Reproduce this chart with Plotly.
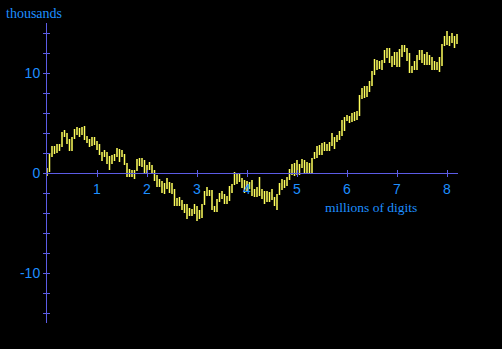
import plotly.graph_objects as go

# Range of the running total (thousands) within each block of 50,000 digits
high = [0.5, 2.0, 2.7, 2.7, 2.9, 2.9, 4.1, 4.3, 4.0, 3.4,
        3.6, 4.4, 4.6, 4.5, 4.6, 4.7, 3.7, 3.4, 3.6, 3.6,
        3.2, 2.9, 2.1, 2.3, 2.1, 1.7, 1.8, 1.9, 2.5, 2.4,
        2.3, 1.9, 1.0, 0.4, 0.3, 0.3, 1.4, 1.5, 1.5, 1.3,
        0.8, 1.1, 0.8, 0.3, -0.2, -0.6, -0.8, -1.0, -0.5, -0.9,
        -1.0, -1.6, -2.5, -2.4, -2.7, -3.1, -3.1, -3.5, -3.6, -3.1,
        -3.3, -3.7, -3.1, -1.8, -1.4, -1.7, -1.7, -3.3, -2.6, -2.0,
        -1.8, -2.1, -2.3, -1.3, -1.1, 0.1, 0.0, 0.0, -0.5, -0.7,
        -0.8, -0.9, -0.7, -1.6, -1.4, -0.4, -1.6, -1.8, -1.8, -1.9,
        -1.6, -2.4, -2.1, -1.0, -0.6, -0.7, -0.4, 0.4, 0.9, 1.0,
        1.3, 0.9, 1.4, 1.3, 1.1, 1.0, 1.5, 2.1, 2.7, 2.8,
        3.0, 3.1, 2.9, 3.1, 4.0, 3.6, 3.8, 4.2, 5.3, 5.6,
        5.8, 5.7, 6.0, 6.1, 6.2, 7.8, 8.5, 8.7, 8.7, 9.2,
        10.2, 11.4, 11.3, 11.2, 11.3, 12.3, 12.5, 12.5, 11.7, 12.1,
        12.1, 12.4, 12.8, 12.8, 12.5, 12.0, 10.7, 11.2, 11.8, 12.3,
        12.3, 11.9, 12.1, 11.8, 11.6, 11.2, 11.1, 11.6, 12.9, 13.7,
        14.2, 13.7, 14.0, 13.7, 13.9]
low = [-0.3, 0.1, 1.6, 1.9, 2.0, 2.2, 2.6, 3.6, 2.9, 2.2,
       2.2, 3.4, 3.8, 3.6, 3.8, 3.3, 3.0, 2.6, 2.7, 2.8,
       2.3, 1.8, 1.2, 1.6, 0.9, 0.3, 0.9, 1.2, 1.6, 1.1,
       1.6, 0.8, -0.4, -0.4, -0.4, -0.6, 0.2, 0.7, 0.6, 0.0,
       0.0, 0.3, 0.0, -0.8, -1.4, -1.4, -2.0, -2.1, -1.6, -2.0,
       -2.1, -3.3, -3.3, -3.3, -3.7, -4.0, -4.6, -4.3, -4.3, -4.1,
       -4.8, -4.6, -4.5, -3.2, -2.3, -2.3, -3.7, -3.9, -3.9, -2.9,
       -2.6, -3.1, -3.1, -2.8, -2.0, -1.2, -1.1, -0.9, -1.5, -2.0,
       -1.8, -1.6, -2.3, -2.4, -2.4, -2.3, -2.6, -3.1, -2.9, -2.9,
       -2.7, -3.3, -3.7, -2.2, -1.7, -1.5, -1.3, -0.7, -0.2, -0.3,
       -0.2, -0.2, 0.5, 0.0, 0.0, 0.0, 0.0, 1.4, 1.5, 1.8,
       1.8, 2.2, 2.2, 2.2, 2.7, 2.4, 3.1, 3.3, 3.7, 4.2,
       5.2, 5.0, 5.1, 5.2, 5.3, 5.7, 7.4, 7.5, 7.6, 8.1,
       8.7, 9.8, 10.3, 10.4, 10.3, 11.0, 11.5, 11.0, 10.6, 10.8,
       10.6, 10.6, 11.6, 12.1, 11.2, 10.0, 10.0, 10.3, 10.3, 11.3,
       11.0, 10.8, 10.8, 10.8, 10.3, 10.3, 10.3, 10.1, 10.7, 12.7,
       12.8, 12.7, 13.0, 12.5, 12.9]

block_millions = 0.05  # each block covers 50,000 digits
digits_millions = [round(i * block_millions, 2) for i in range(len(high))]

x_tickvals = [1, 2, 3, 4, 5, 6, 7, 8]
x_ticktext = ["1", "2", "3", "4", "5", "6", "7", "8"]
y_tickvals = [-14, -12, -10, -8, -6, -4, -2, 0, 2, 4, 6, 8, 10, 12, 14]
y_ticktext = ["", "", "-10", "", "", "", "", "0", "", "", "", "", "10", "", ""]

AXIS = "#5c5ce6"
TEXT = "#1e8fff"
BAR = "#ffff5c"
num_font = dict(family="Liberation Sans Narrow, Liberation Sans, sans-serif", size=14, color=TEXT)
title_font = dict(family="Liberation Serif, serif", size=14, color=TEXT)
xlbl_font = dict(family="Liberation Serif, serif", size=13.5, color=TEXT)

xs, ys = [], []
for x, lo, hi in zip(digits_millions, low, high):
    xs += [x, x, None]
    ys += [lo, hi, None]

fig = go.Figure()
fig.add_trace(go.Scatter(x=xs, y=ys, mode="lines", line=dict(color=BAR, width=1.5),
                         hoverinfo="skip", showlegend=False))
fig.add_trace(go.Scatter(x=[], y=[], xaxis="x2", yaxis="y2", showlegend=False))

XR = [0, 8.22]
YR = [-15, 15]
fig.update_layout(
    width=502, height=349,
    margin=dict(l=47, r=44, t=23, b=26),
    paper_bgcolor="black", plot_bgcolor="black",
    showlegend=False,
    xaxis=dict(range=XR, anchor="free", position=0.5, showline=True, linecolor=AXIS, linewidth=1,
               ticks="outside", ticklen=3, tickcolor=AXIS, tickwidth=1,
               tickvals=x_tickvals, ticktext=x_ticktext, tickfont=num_font,
               showgrid=False, zeroline=False, fixedrange=True),
    xaxis2=dict(range=XR, overlaying="x", anchor="free", position=0.5, showline=False,
                ticks="inside", ticklen=3, tickcolor=AXIS, tickwidth=1,
                tickvals=x_tickvals, showticklabels=False, showgrid=False, zeroline=False),
    yaxis=dict(range=YR, showline=True, linecolor=AXIS, linewidth=1,
               ticks="outside", ticklen=3, tickcolor=AXIS, tickwidth=1,
               tickvals=y_tickvals, ticktext=y_ticktext, tickfont=num_font,
               showgrid=False, zeroline=False),
    yaxis2=dict(range=YR, overlaying="y", anchor="x", side="left", showline=False,
                ticks="inside", ticklen=3, tickcolor=AXIS, tickwidth=1,
                tickvals=y_tickvals, showticklabels=False, showgrid=False, zeroline=False),
    annotations=[
        dict(text="thousands", xref="paper", yref="paper", x=-0.1046, y=1.0333,
             xanchor="left", yanchor="middle", showarrow=False, font=title_font),
        dict(text="millions of digits", xref="x", yref="y", x=7.44, y=-3.47,
             xanchor="right", yanchor="middle", showarrow=False, font=xlbl_font),
    ],
)

fig.write_html("out.html")
